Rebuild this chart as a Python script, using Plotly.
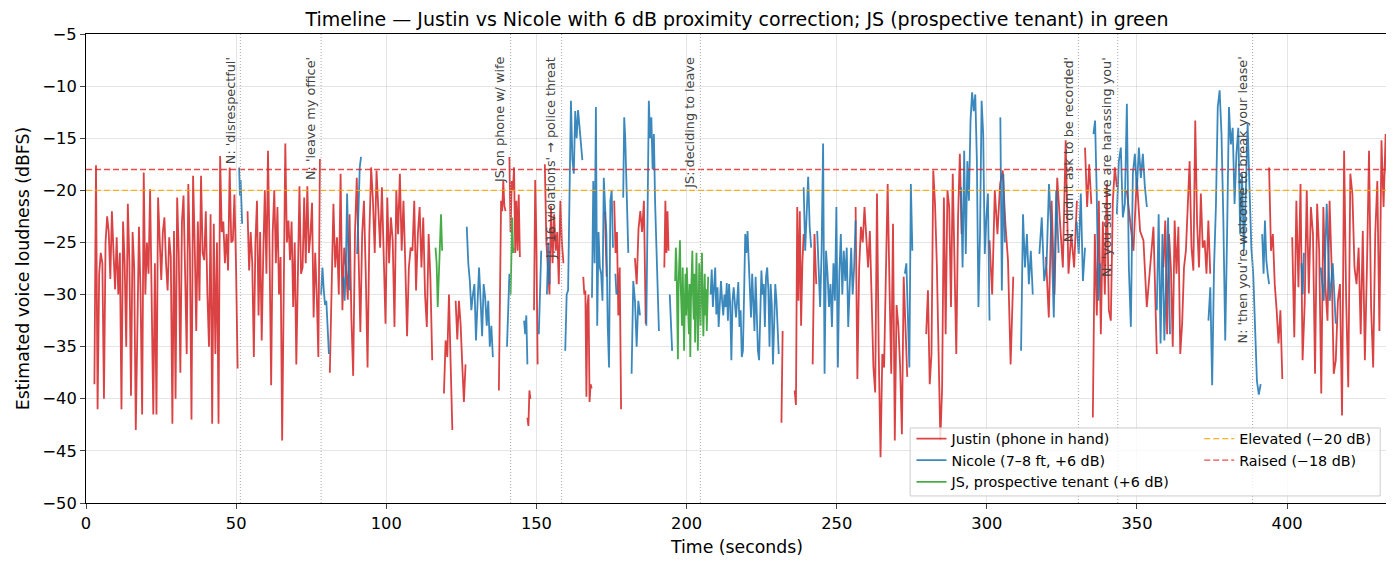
import numpy as np
import plotly.graph_objects as go

# speech segments: (start s, end s, loudness values in dBFS)
justin = [
    (2.8, 50.5, [-38.6, -17.6, -41, -28, -26, -27, -40, -25, -22.5, -24, -28.5, -22, -26, -29.5, -24.5, -30, -26, -41,
                 -23, -27, -35, -21.3, -27, -39.7, -24, -27.4, -43, -33.8, -23.5, -30, -41.5, -18.3, -30, -25, -28, -19.9,
                 -30, -41.5, -27, -41.5, -20.7, -25, -28.6, -24, -22.6, -27, -29.6, -24.5, -26.4, -42.4, -23.9, -40, -20.7,
                 -26, -37.5, -23, -20.5, -28, -35.7, -19.4, -26, -42, -18.6, -25, -33.5, -23, -30.6, -18.6, -26, -26.7, -22,
                 -30, -35, -22.3, -42.4, -23.2, -35.7, -25, -42.4, -16.7, -24, -23, -27, -24.2, -27.7, -17.8, -25, -24.8,
                 -20.4, -27.4, -37.1]),
    (53.8, 77.9, [-22, -27.7, -24, -27, -36, -25, -21, -32, -24, -34.4, -26, -20, -28, -16.2, -26, -38.7, -24, -20, -27,
                  -21.6, -30, -26.4, -44, -28, -15.5, -25, -22.9, -26.7, -23, -31.2, -25, -36.7, -27, -19.6, -28, -27.4,
                  -20.7, -27, -19.6, -26, -24.2, -21.2, -32.2, -26, -30, -36, -17]),
    (81.2, 115.3, [-37.5, -29, -21.3, -27.4, -24.5, -30, -18.4, -31.5, -25.5, -27.4, -30.5, -22.3, -32.2, -37.8, -24.2,
                   -18.8, -27.4, -33.6, -24.2, -21, -28, -37, -24.2, -17.8, -21, -26, -18.1, -22.6, -25.5, -19.7, -27,
                   -32.8, -20.7, -27, -22.6, -24.8, -33.1, -20, -24.2, -18.4, -25.8, -21, -27, -34, -27.4, -25.5, -25.8,
                   -21, -29.6, -24.2, -21.6, -27.4, -22.6, -30, -33.1, -24.2, -28.5, -36.3]),
    (119.2, 122.0, [-39.5, -34.4, -36, -30, -36.7, -43]),
    (123.1, 126.4, [-30.6, -34.3, -30.6, -32.8, -36.7, -40.3, -36.7]),
    (137.5, 139.7, [-39.2, -30, -21, -22, -19.1, -21.5, -22]),
    (141.0, 144.5, [-16.8, -24, -19.1, -20, -17.8, -26, -21, -25.8, -20.4, -26.4]),
    (147.0, 148.0, [-41.8, -42.6, -39.2, -40]),
    (149.2, 150.4, [-31.5, -19, -25, -36.7]),
    (152.8, 159.0, [-17.5, -25, -27.4, -30, -21.5, -27, -22.3, -25.8, -24, -29, -21, -25, -27]),
    (165.6, 168.4, [-28.3, -30, -29.6, -39.8, -31, -30, -40.3, -38.6, -39]),
    (172.8, 173.4, [-22, -26, -28.3]),
    (175.9, 178.2, [-21, -26, -24, -32, -27.4, -41]),
    (182.8, 186.4, [-26.5, -29, -23.7, -22, -24, -21, -32.8]),
    (192.6, 194.0, [-27.4, -21, -26, -22, -25.8]),
    (231.6, 232.0, [-42.3, -33.5]),
    (236.0, 239.0, [-39.2, -40.6, -21.6, -30.6, -22, -33, -27, -24.2]),
    (242.0, 243.2, [-36.7, -24.2, -29]),
    (256.3, 273.5, [-21.6, -38.1, -27.4, -23.5, -25, -21.6, -24.5, -27.4, -23.9, -30, -37, -39.4, -20.3, -35.7, -45.6,
                    -35.7, -37, -28, -19.4, -29, -37.6, -23.2, -44, -31, -33, -37, -43.4, -28.3, -32.8, -37.9]),
    (279.8, 291.6, [-33.8, -29.6, -38.6, -35.7, -18.1, -21.3, -27, -37, -44, -38.9, -20.7, -33.8, -20, -21.6, -31.2,
                    -18.4, -27, -35.7, -22.6, -16.5, -24.2]),
    (300.9, 308.8, [-24.8, -30, -20, -24.2, -19.4, -18.1, -23.2, -26.7, -36.7, -28.3]),
    (319.7, 330.0, [-26.4, -32.2, -21, -30, -18.8, -22.6, -27.4, -15.2, -28, -24.2, -27.4, -21]),
    (332.7, 334.8, [-15.9, -21.6, -17.5, -21.3]),
    (335.3, 343.3, [-41.8, -24.2, -32, -21, -33.8, -23, -30, -19.4, -31.5, -32.5, -21, -17.8, -19.7]),
    (346.6, 356.6, [-20, -22.9, -25.8, -18.8, -23.9, -24.8, -31.2, -27.4, -23.5, -35.7]),
    (358.8, 374.4, [-27.4, -22.9, -33.8, -24.2, -27.4, -35, -22.9, -28, -23.5, -35.7, -32.8, -27.4, -25.8, -21, -17.2,
                    -25.5, -27.7, -13.3, -23.2, -27.4, -20.3, -25.5, -24.8, -28, -22.9, -28]),
    (394.0, 398.4, [-17.8, -25.8, -24.2, -29, -31.5, -34.7, -31.5, -38.1]),
    (401.7, 433.5, [-24.5, -34.1, -21, -29.3, -19.4, -36.3, -30.9, -20, -29.9, -21.6, -24.2, -37.6, -21.3, -25.8, -39.5,
                    -21.6, -29.3, -32.5, -21, -27.4, -37.6, -36.3, -30.6, -29, -41.6, -16.2, -30.6, -38.9, -18.4, -20.4,
                    -27.4, -29, -25.5, -33.8, -23.9, -36.3, -27.4, -16.2, -31.2, -37, -24.2, -19.1, -33.5, -15.2, -21.6,
                    -14.6, -21.3]),
]

nicole = [
    (51.0, 52.0, [-17.8, -20.5, -19, -22, -23.2]),
    (78.3, 80.9, [-30, -27.4, -29.5, -31, -30.6, -33, -35.7]),
    (85.7, 87.8, [-28.3, -30.6, -27.5, -20.3, -26, -29.6]),
    (90.3, 91.6, [-26.1, -22, -17.8, -16.8]),
    (126.8, 135.5, [-23.5, -27, -28.7, -31.5, -30, -29, -34.4, -31, -27.4, -30.5, -34, -29, -30.3, -33, -30.6, -35, -33, -36]),
    (140.2, 141.0, [-35, -30, -28]),
    (145.9, 147.0, [-32.5, -33.8, -32, -36.7]),
    (150.8, 151.6, [-33.8, -29, -25.8]),
    (153.5, 154.4, [-30, -25, -29]),
    (159.6, 165.3, [-35.4, -30, -29.6, -20, -11.4, -17, -18.4, -12.4, -15, -12.3, -14, -15, -17.1]),
    (168.5, 175.5, [-30.3, -19.1, -27, -12, -33, -24, -27.4, -28, -30.6, -18.8, -21.6, -24.2, -33, -37, -21, -20, -25.5]),
    (176.3, 177.0, [-28, -30, -29.6]),
    (178.9, 180.6, [-20.7, -13, -15, -18, -21, -26]),
    (181.7, 184.5, [-37.6, -28.7, -30.6, -35, -30.6, -32]),
    (186.6, 190.8, [-33, -21, -11.4, -15, -13, -18, -14.6, -21.3, -24.8, -29, -33.5]),
    (194.4, 195.2, [-30, -33, -35.4]),
    (208.0, 230.7, [-30, -27.6, -31.2, -28.4, -27.4, -31.9, -29.3, -33.1, -30.2, -28.7, -30.6, -32, -30, -31.2, -28.9,
                    -32.5, -29, -31, -36.3, -30.6, -29.3, -31, -32.2, -30.6, -28.8, -33.1, -31.5, -36, -35.4, -30, -24.2,
                    -26, -23.9, -26.7, -29, -32.2, -28, -30.5, -33.5, -28.3, -31, -35.4, -36.3, -32, -27.7, -30, -29,
                    -33.1, -28.3, -27.4, -29.5, -35, -29, -31, -36.7, -33, -29, -30.5, -33.1, -35.7]),
    (239.0, 241.5, [-19.7, -25.8, -22.3, -18.7, -23.5, -25.5]),
    (243.5, 256.3, [-23.9, -28, -31.2, -25.8, -15.5, -37.6, -25.8, -28, -31.2, -29, -33.1, -27, -30.6, -21.6, -37, -28,
                    -24.2, -30, -25.8, -28.7, -25.5, -33.1, -28, -25.5, -30, -27.4, -22.9]),
    (272.7, 275.2, [-28, -27, -32, -37, -19.4, -25.8]),
    (291.4, 300.9, [-19.7, -27.4, -16.2, -26.1, -17.2, -21, -13.3, -10.6, -12.4, -10.8, -17, -31.2, -24.2, -11.4, -14.6,
                    -26.1, -22.6, -20.3, -32.5]),
    (304.5, 306.0, [-13, -29.6, -18.4, -25]),
    (311.4, 315.3, [-35.4, -22.3, -27.4, -24.2, -29, -25.8, -30]),
    (317.5, 323.9, [-26.1, -22.6, -28.7, -27, -19.4, -24.2, -32.2, -20, -26]),
    (329.9, 332.7, [-23, -26.1, -20.3, -28.7, -25.5]),
    (335.5, 337.7, [-14.6, -13.3, -20.3, -30.6, -27]),
    (343.3, 353.3, [-22.3, -17.2, -15.9, -22.6, -21.3, -11.7, -27.4, -33.1, -18.4, -16.5, -20, -15.9, -18.8, -16.5, -19.7, -21.6]),
    (356.6, 361.0, [-31.5, -22.3, -34.7, -24.2, -34.4, -28, -22.6, -33.8]),
    (373.8, 391.2, [-32.5, -29.3, -38.7, -27.4, -21.6, -12, -10.4, -14.6, -22.9, -34.4, -24.2, -12, -15.6, -14, -21.3,
                    -16.5, -14, -24.2, -18.4, -25.8, -20.4, -13.6, -19.7, -25.5, -28, -32.8, -38.3, -39.6, -38.6]),
    (391.7, 394.0, [-24.2, -28, -22.9, -26.7, -28, -29]),
    (404.8, 405.6, [-27, -30, -26]),
    (411.2, 416.2, [-27.4, -30.6, -21.3, -30.6, -27, -32.8]),
]

js_tenant = [
    (116.4, 118.6, [-25.5, -27, -31.2, -28, -24, -22.3, -25.8]),
    (141.4, 142.5, [-30, -25, -22.6, -26, -25.5]),
    (196.2, 207.2, [-28.7, -25.5, -27, -30, -36.2, -29, -27, -24.8, -29, -31.5, -33, -27.4, -30, -35.4, -31, -28, -32,
                    -27.4, -29.5, -31, -33.8, -29, -36, -30.5, -28.5, -25.8, -30, -32.4, -28, -34.6, -30, -26, -31,
                    -35.4, -32, -27, -29.6, -33, -28.3, -26, -30.5, -34, -31, -28, -32, -29.5, -33.5, -30, -28.3]),
]

event_t = [51.4, 78.3, 141.4, 158.4, 204.6, 330.5, 343.6, 388.5]
event_txt = ["N: 'disrespectful'", "N: 'leave my office'", "JS on phone w/ wife",
             "J: '16 violations' → police threat", "JS: deciding to leave",
             "N: 'didn't ask to be recorded'", "N: 'you said we are harassing you'",
             "N: 'then you're welcome to break your lease'"]

elevated_db = -20
raised_db = -18
t_max = 433.6


def build(segs):
    xs, ys = [], []
    for t0, t1, vals in segs:
        xs += list(np.linspace(t0, t1, len(vals))) + [None]
        ys += list(vals) + [None]
    return xs, ys


fig = go.Figure()

for segs, name, col in [(justin, "Justin (phone in hand)", "#d62728"),
                        (nicole, "Nicole (7–8 ft, +6 dB)", "#1f77b4"),
                        (js_tenant, "JS, prospective tenant (+6 dB)", "#2ca02c")]:
    x, y = build(segs)
    fig.add_trace(go.Scatter(x=x, y=y, mode="lines", name=name, opacity=0.87,
                             line=dict(color=col, width=1.8), legend="legend"))

fig.add_trace(go.Scatter(x=[0, t_max], y=[elevated_db, elevated_db], mode="lines", name="Elevated (−20 dB)",
                         line=dict(color="rgba(255,165,0,0.85)", width=1.3, dash="6px,3px"), legend="legend2"))
fig.add_trace(go.Scatter(x=[0, t_max], y=[raised_db, raised_db], mode="lines", name="Raised (−18 dB)",
                         line=dict(color="rgba(230,30,30,0.8)", width=1.3, dash="6px,3px"), legend="legend2"))

for t, txt in zip(event_t, event_txt):
    fig.add_vline(x=t, line=dict(color="#a8a8a8", width=1, dash="1px,2px"))
    fig.add_annotation(x=t, y=-7.0, text=txt, textangle=-90, xanchor="right", yanchor="top",
                       showarrow=False, xshift=-1, font=dict(size=12.8, color="#444444"))

# legend frame around both legend columns
fig.add_shape(type="rect", xref="paper", yref="paper", x0=0.633, x1=0.994, y0=0.015, y1=0.160,
              line=dict(color="#cccccc", width=1), fillcolor="rgba(255,255,255,0.8)", layer="above")

# page body has an 8px margin, so the figure is 8px smaller than the window
fig.update_layout(
    width=1386, height=554,
    margin=dict(l=78, r=6, t=26, b=59),
    paper_bgcolor="white", plot_bgcolor="white",
    font=dict(family="DejaVu Sans", size=16.3, color="black"),
    title=dict(text="Timeline — Justin vs Nicole with 6 dB proximity correction; JS (prospective tenant) in green",
               x=0.5, xref="paper", y=1, yref="container", yanchor="top", pad=dict(t=5),
               font=dict(size=19)),
    legend=dict(x=0.634, y=0.171, xanchor="left", yanchor="top", bgcolor="rgba(0,0,0,0)",
                font=dict(size=14.3), tracegroupgap=0),
    legend2=dict(x=0.855, y=0.171, xanchor="left", yanchor="top", bgcolor="rgba(0,0,0,0)",
                 font=dict(size=14.3)),
)

fig.update_xaxes(range=[0, t_max], dtick=50, showgrid=True, gridcolor="rgba(0,0,0,0.1)", zeroline=False,
                 showline=True, mirror=True, linecolor="black", linewidth=1, ticks="outside", ticklen=5,
                 title=dict(text="Time (seconds)", standoff=9, font=dict(size=17.3)))
fig.update_yaxes(range=[-50, -5], dtick=5, showgrid=True, gridcolor="rgba(0,0,0,0.1)", zeroline=False,
                 showline=True, mirror=True, linecolor="black", linewidth=1, ticks="outside", ticklen=5,
                 title=dict(text="Estimated voice loudness (dBFS)", standoff=8, font=dict(size=17.3)))

fig.write_html("out.html")
